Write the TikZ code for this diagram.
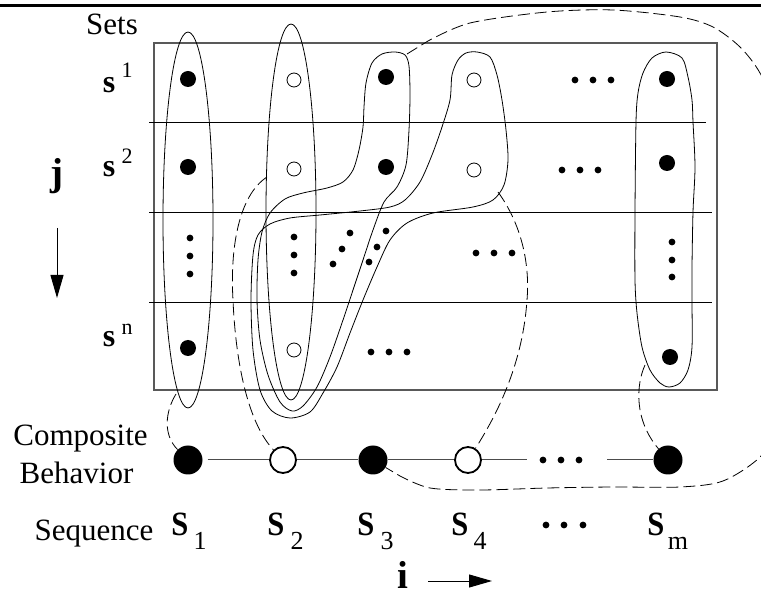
\documentclass[tikz,border=0pt]{standalone}
\usepackage{fontspec}
\setmainfont{Liberation Serif}
\usetikzlibrary{arrows.meta}

\newcommand\fsz[1]{\fontsize{#1}{#1}\selectfont}

\begin{document}
\begin{tikzpicture}[x=1pt,y=-1pt,
  fdot/.style={circle,fill,inner sep=0pt,minimum size=16pt},
  odot/.style={circle,draw,line width=0.8pt,inner sep=0pt,minimum size=14pt},
  sdot/.style={circle,fill,inner sep=0pt,minimum size=6.8pt},
  bfill/.style={circle,fill,inner sep=0pt,minimum size=29pt},
  bopen/.style={circle,draw,fill=white,line width=1.8pt,inner sep=0pt,minimum size=26pt},
  grp/.style={line width=0.8pt},
  lnk/.style={line width=0.8pt,dash pattern=on 12pt off 5pt},
  row/.style={line width=0.9pt},
  chain/.style={line width=1pt,draw=black!70},
  lbl/.style={inner sep=0pt,anchor=base,font=\fsz{31}},
  setl/.style={inner sep=0pt,anchor=base,font=\fsz{32}\bfseries},
  supl/.style={inner sep=0pt,anchor=base,font=\fsz{22}},
  seql/.style={inner sep=0pt,anchor=base,font=\fsz{34}\bfseries},
  subl/.style={inner sep=0pt,anchor=base,font=\fsz{26}},
  axl/.style={inner sep=0pt,anchor=base,font=\fsz{39}\bfseries},
  axarrow/.style={line width=1pt,-{Triangle[length=23pt,width=13pt]}}
]
\useasboundingbox (0,0) rectangle (761,593);
\clip (0,0) rectangle (761,593);

% rule across the top
\draw[line width=2.6pt] (0,5.5) -- (761,5.5);

% frame of the set table and the row separators
\draw[line width=1.2pt,draw=black!65] (154,43) rectangle (717,390);
\draw[row] (149,122) -- (706,122);
\draw[row] (149,212) -- (712,212);
\draw[row] (149,302) -- (712,302);

% row labels
\node[lbl] (sets) at (112,35) {Sets};
\node[setl] (s1) at (109,93) {s};
\node[supl] (s1x) at (127,78) {1};
\node[setl] (s2) at (109,177) {s};
\node[supl] (s2x) at (127,164) {2};
\node[setl] (sn) at (109,347) {s};
\node[supl] (snx) at (127,335) {n};

% column 1
\node[fdot] (a11) at (188,79) {};
\node[fdot] (a12) at (188,167) {};
\node[sdot] (a1d1) at (190,238) {};
\node[sdot] (a1d2) at (190,256) {};
\node[sdot] (a1d3) at (190,274) {};
\node[fdot] (a1n) at (188,348) {};

% column 2
\node[odot] (a21) at (294,80) {};
\node[odot] (a22) at (294,169) {};
\node[sdot] (a2d1) at (294,237) {};
\node[sdot] (a2d2) at (294,255) {};
\node[sdot] (a2d3) at (294,273) {};
\node[odot] (a2n) at (294,350) {};

% column 3
\node[fdot] (a31) at (386,77) {};
\node[fdot] (a32) at (386,167) {};
\node[sdot] (dg1) at (333,264) {};
\node[sdot] (dg2) at (342,249) {};
\node[sdot] (dg3) at (350,233) {};
\node[sdot] (dh1) at (369,262) {};
\node[sdot] (dh2) at (377,247) {};
\node[sdot] (dh3) at (386,231) {};

% column 4
\node[odot] (a41) at (474,80) {};
\node[odot] (a42) at (474,170) {};

% row ellipses
\node[sdot] (e11) at (575,80) {};
\node[sdot] (e12) at (593,80) {};
\node[sdot] (e13) at (611,80) {};
\node[sdot] (e21) at (562,170) {};
\node[sdot] (e22) at (580,170) {};
\node[sdot] (e23) at (598,170) {};
\node[sdot] (e31) at (476,253) {};
\node[sdot] (e32) at (494,253) {};
\node[sdot] (e33) at (512,253) {};
\node[sdot] (en1) at (371,352) {};
\node[sdot] (en2) at (389,352) {};
\node[sdot] (en3) at (407,352) {};

% last column
\node[fdot] (am1) at (667,79) {};
\node[fdot] (am2) at (667,163) {};
\node[sdot] (amd1) at (672,242) {};
\node[sdot] (amd2) at (672,260) {};
\node[sdot] (amd3) at (672,277) {};
\node[fdot] (amn) at (670,357) {};

% groupings of the set elements
\draw[grp] (188,220) ellipse [x radius=25pt, y radius=188pt];
\draw[grp] (291,212) ellipse [x radius=25pt, y radius=188pt];
\draw[grp] plot[smooth cycle] coordinates {
  (395,52) (405,55) (409,66) (410,95) (409,130) (406,165) (397,187)
  (384,202) (373,230) (363,260) (353,290) (343,320) (330,357) (317,387)
  (303,406) (292,411) (280,402) (268,375) (260,340) (257,300) (258,260)
  (262,232) (270,213) (285,199) (303,193) (327,188) (343,182) (353,170)
  (359,150) (363,127) (364,107) (366,83) (372,63) (382,54)};
\draw[grp] plot[smooth cycle] coordinates {
  (477,52) (490,57) (497,75) (502,100) (506,130) (508,160) (504,185)
  (493,200) (473,207) (433,213) (407,223) (390,240) (377,267) (363,300)
  (350,333) (337,367) (323,393) (310,412) (290,418) (272,411) (260,390)
  (253,350) (251,300) (253,255) (258,235) (270,224) (290,218) (320,215)
  (360,211) (390,207) (405,200) (420,182) (432,155) (442,127) (450,100)
  (452,75) (458,60) (466,53)};
\draw[grp] plot[smooth cycle] coordinates {
  (666,52) (682,58) (688,77) (692,100) (693,122) (695,167) (693,212)
  (692,267) (692,302) (692,347) (688,370) (680,383) (669,387) (660,383)
  (650,370) (642,347) (637,313) (635,280) (635,212) (636,122) (638,93)
  (643,73) (652,58)};

% composite behavior chain
\node[bfill] (c1) at (188,460) {};
\node[bopen] (c2) at (283,460) {};
\node[bfill] (c3) at (373,460) {};
\node[bopen] (c4) at (468,460) {};
\node[bfill] (cm) at (668,460) {};
\coordinate (cgapl) at (527,460);
\coordinate (cgapr) at (607,460);
\draw[chain] ([xshift=5pt]c1.east) -- (c2);
\draw[chain] (c2) -- (c3);
\draw[chain] (c3) -- (c4);
\draw[chain] (c4) -- (cgapl);
\draw[chain] (cgapr) -- (cm);
\node[sdot] (cd1) at (543,460) {};
\node[sdot] (cd2) at (561,460) {};
\node[sdot] (cd3) at (579,460) {};

% links from each grouping to its composite element
\coordinate (g1) at (176,394);
\coordinate (g2) at (267,177);
\coordinate (g3) at (407,54);
\coordinate (g4) at (498,192);
\coordinate (gm) at (645,365);
\draw[lnk] (g1) .. controls (165,412) and (163,435) .. (c1);
\draw[lnk] (g2) .. controls (238,196) and (230,250) .. (233,300)
  .. controls (236,370) and (250,425) .. (c2);
\draw[lnk] (g4) .. controls (522,225) and (530,265) .. (527,300)
  .. controls (523,360) and (500,410) .. (c4);
\draw[lnk] (gm) .. controls (636,385) and (634,420) .. (cm);
\draw[lnk] (g3) -- plot[smooth] coordinates {
  (428,41) (470,23) (547,12) (613,10) (680,17) (713,27) (740,47) (760,73)
  (778,115) (788,200) (788,350) (778,425) (760,457) (723,481) (680,487)
  (613,487) (547,488) (480,490) (430,488) (400,476)} -- (c3);

% left labels
\node[lbl] (comp) at (80.5,446) {Composite};
\node[lbl] (behav) at (76.5,484) {Behavior};
\node[lbl] (seq) at (94,541) {Sequence};

% sequence labels
\node[seql] (S1) at (180,536) {\scalebox{0.9}[1]{S}};
\node[subl] (S1x) at (200,550) {1};
\node[seql] (S2) at (276,536) {\scalebox{0.9}[1]{S}};
\node[subl] (S2x) at (297,550) {2};
\node[seql] (S3) at (366,536) {\scalebox{0.9}[1]{S}};
\node[subl] (S3x) at (387,550) {3};
\node[seql] (S4) at (460,536) {\scalebox{0.9}[1]{S}};
\node[subl] (S4x) at (480,550) {4};
\node[sdot] (sd1) at (546,525) {};
\node[sdot] (sd2) at (564,525) {};
\node[sdot] (sd3) at (583,525) {};
\node[seql] (Sm) at (656,536) {\scalebox{0.9}[1]{S}};
\node[subl] (Smx) at (678,550) {m};

% index axes
\node[axl] (jl) at (57,186) {j};
\coordinate (jt) at (57,228);
\coordinate (jb) at (57,298);
\draw[axarrow] (jt) -- (jb);
\node[axl] (il) at (403,588) {i};
\coordinate (is) at (428,581);
\coordinate (ie) at (492,581);
\draw[axarrow] (is) -- (ie);
\end{tikzpicture}
\end{document}
